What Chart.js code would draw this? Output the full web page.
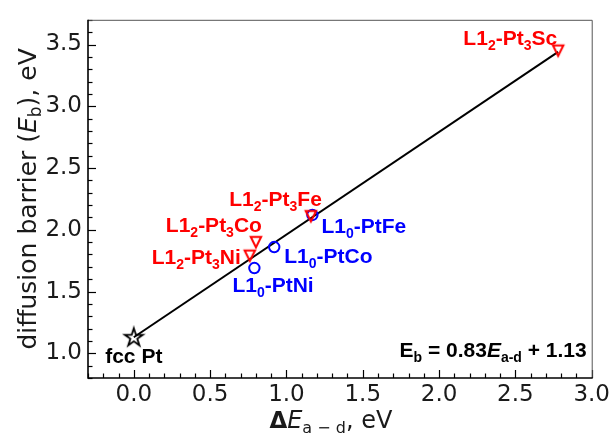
<!DOCTYPE html>
<html>
<head>
<meta charset="utf-8">
<script src="https://cdn.jsdelivr.net/npm/chart.js@4.4.1/dist/chart.umd.min.js"></script>
<style>
  html, body { margin: 0; padding: 0; background: #fff; }
  #wrap { width: 613px; height: 433px; }
</style>
</head>
<body>
<div id="wrap"><canvas id="chart" width="613" height="433"></canvas></div>
<script>
// axis ranges and tick labels
const xRange = [-0.3, 3.0];
const yRange = [0.8, 3.7];
const xTicks = [0.0, 0.5, 1.0, 1.5, 2.0, 2.5, 3.0];
const yTicks = [1.0, 1.5, 2.0, 2.5, 3.0, 3.5];

// pure Pt (star)
const pureNames = ['fcc Pt'];
const pureX = [0.0];
const pureY = [1.13];

// L1_2 Pt3M (red down-triangles), {n} = subscript
const l12Names = ['L1{2}-Pt{3}Ni', 'L1{2}-Pt{3}Co', 'L1{2}-Pt{3}Fe', 'L1{2}-Pt{3}Sc'];
const l12X = [0.76, 0.80, 1.16, 2.78];
const l12Y = [1.79, 1.90, 2.11, 3.45];

// L1_0 PtM (blue circles)
const l10Names = ['L1{0}-PtNi', 'L1{0}-PtCo', 'L1{0}-PtFe'];
const l10X = [0.79, 0.92, 1.17];
const l10Y = [1.69, 1.86, 2.12];

// fitted line, drawn between its two ends
const fitX = [0.0, 2.78];
const fitY = [1.13, 3.44];
const fitSlope = '0.83';
const fitIntercept = '1.13';

// label placement relative to the marker (px), style only
const labelPos = {
  'fcc Pt': { dx: 0, dy: 26, align: 'center' },
  'L1{2}-Pt{3}Ni': { dx: -9, dy: 8, align: 'right' },
  'L1{2}-Pt{3}Co': { dx: 6, dy: -10, align: 'right' },
  'L1{2}-Pt{3}Fe': { dx: 11, dy: -10, align: 'right' },
  'L1{2}-Pt{3}Sc': { dx: -1, dy: -6, align: 'right' },
  'L1{0}-PtNi': { dx: -22, dy: 24, align: 'left' },
  'L1{0}-PtCo': { dx: 10, dy: 16, align: 'left' },
  'L1{0}-PtFe': { dx: 9, dy: 18, align: 'left' }
};

const RED = '#ff0000', BLUE = '#0000ff';
const LBL = 'bold 21px "Liberation Sans", Arial, sans-serif';
const LBL_SUB = 'bold 14px "Liberation Sans", Arial, sans-serif';

function pts(xs, ys) { return xs.map((x, i) => ({ x: x, y: ys[i] })); }

// custom marker images
function starImg() {
    const c = document.createElement('canvas'); c.width = 24; c.height = 24;
    const g = c.getContext('2d'), R = 9.5, r = R * 0.382;
    g.beginPath();
    for (let i = 0; i < 10; i++) {
        const a = -Math.PI / 2 + i * Math.PI / 5, rr = i % 2 ? r : R;
        g.lineTo(12 + rr * Math.cos(a), 12.5 + rr * Math.sin(a));
    }
    g.closePath(); g.lineWidth = 1.8; g.strokeStyle = '#000'; g.lineJoin = 'miter'; g.stroke();
    return c;
}
function triImg() {
    const c = document.createElement('canvas'); c.width = 16; c.height = 16;
    const g = c.getContext('2d'), s = 5.2;
    g.beginPath(); g.moveTo(8 - s, 8 - s); g.lineTo(8 + s, 8 - s); g.lineTo(8, 8 + s); g.closePath();
    g.lineWidth = 2; g.strokeStyle = RED; g.stroke();
    return c;
}

// rich text: segments {t, font, dy}
function parseName(str) {
    const segs = [];
    str.split(/(\{[^}]*\})/).forEach(p => {
        if (!p) return;
        if (p[0] === '{') segs.push({ t: p.slice(1, -1), font: LBL_SUB, dy: 5 });
        else segs.push({ t: p, font: LBL, dy: 0 });
    });
    return segs;
}
function drawRich(ctx, segs, x, y, align) {
    let w = 0;
    segs.forEach(s => { ctx.font = s.font; s.w = ctx.measureText(s.t).width; w += s.w; });
    let cx = align === 'right' ? x - w : align === 'center' ? x - w / 2 : x;
    ctx.textAlign = 'left'; ctx.textBaseline = 'alphabetic';
    segs.forEach(s => { ctx.font = s.font; ctx.fillText(s.t, cx, y + s.dy); cx += s.w; });
}

const decoPlugin = {
    id: 'deco',
    afterDatasetsDraw(chart) {
        const { ctx, chartArea: a, scales: { x, y } } = chart;
        ctx.save();
        // point labels
        const groups = [[pureNames, pureX, pureY, '#000'], [l12Names, l12X, l12Y, RED], [l10Names, l10X, l10Y, BLUE]];
        groups.forEach(([names, xs, ys, col]) => {
            names.forEach((n, i) => {
                const p = labelPos[n];
                ctx.fillStyle = col;
                drawRich(ctx, parseName(n), x.getPixelForValue(xs[i]) + p.dx, y.getPixelForValue(ys[i]) + p.dy, p.align);
            });
        });
        // fit equation
        ctx.fillStyle = '#000';
        drawRich(ctx, [
            { t: 'E', font: LBL, dy: 0 },
            { t: 'b', font: LBL_SUB, dy: 5 },
            { t: ' = ' + fitSlope, font: LBL, dy: 0 },
            { t: 'E', font: 'italic ' + LBL, dy: 0 },
            { t: 'a-d', font: LBL_SUB, dy: 5 },
            { t: ' + ' + fitIntercept, font: LBL, dy: 0 }
        ], a.right - 5, a.bottom - 21, 'right');

        // ticks, pointing inwards
        ctx.strokeStyle = '#000'; ctx.lineWidth = 1.2;
        for (let i = Math.round(xRange[0] * 10); i <= Math.round(xRange[1] * 10); i++) {
            const px = Math.round(x.getPixelForValue(i / 10)) + 0.5, len = i % 5 === 0 ? 8 : 4.5;
            ctx.beginPath(); ctx.moveTo(px, a.bottom); ctx.lineTo(px, a.bottom - len); ctx.stroke();
        }
        for (let i = Math.round(yRange[0] * 10); i <= Math.round(yRange[1] * 10); i++) {
            const py = Math.round(y.getPixelForValue(i / 10)) + 0.5, len = i % 5 === 0 ? 8 : 4.5;
            ctx.beginPath(); ctx.moveTo(a.left, py); ctx.lineTo(a.left + len, py); ctx.stroke();
        }
        // frame
        ctx.strokeStyle = '#555'; ctx.lineWidth = 1;
        ctx.beginPath(); ctx.moveTo(a.left, a.top + 0.5); ctx.lineTo(a.right + 0.5, a.top + 0.5); ctx.lineTo(a.right + 0.5, a.bottom); ctx.stroke();
        ctx.strokeStyle = '#000'; ctx.lineWidth = 1.6;
        ctx.beginPath(); ctx.moveTo(a.left, a.top); ctx.lineTo(a.left, a.bottom); ctx.lineTo(a.right + 1, a.bottom); ctx.stroke();

        // axis titles
        const T = '25px "DejaVu Sans"', TS = '17px "DejaVu Sans"';
        ctx.fillStyle = '#1a1a1a';
        ctx.save();
        ctx.translate(36, (a.top + a.bottom) / 2);
        ctx.rotate(-Math.PI / 2);
        drawRich(ctx, [
            { t: 'diffusion barrier (', font: T, dy: 0 },
            { t: 'E', font: 'italic ' + T, dy: 0 },
            { t: 'b', font: TS, dy: 5 },
            { t: '), eV', font: T, dy: 0 }
        ], 0, 0, 'center');
        ctx.restore();
        drawRich(ctx, [
            { t: '\u0394', font: 'bold 23px "DejaVu Sans"', dy: 0 },
            { t: 'E', font: 'italic 24px "DejaVu Sans"', dy: 0 },
            { t: 'a \u2212 d', font: '16px "DejaVu Sans"', dy: 5 },
            { t: ', eV', font: '24px "DejaVu Sans"', dy: 0 }
        ], (a.left + a.right) / 2 - 9, 428, 'center');
        ctx.restore();
    }
};

const tickFont = { family: 'DejaVu Sans', size: 23 };

new Chart(document.getElementById('chart'), {
    type: 'scatter',
    data: {
        datasets: [
            { label: 'fit', data: pts(fitX, fitY), showLine: true, borderColor: '#000', borderWidth: 2, pointRadius: 0, order: 3 },
            { label: 'L1_0', data: pts(l10X, l10Y), pointStyle: 'circle', pointRadius: 5.2, pointBorderWidth: 2, borderColor: BLUE, pointBorderColor: BLUE, pointBackgroundColor: 'rgba(0,0,0,0)', backgroundColor: 'rgba(0,0,0,0)', order: 2 },
            { label: 'L1_2', data: pts(l12X, l12Y), pointStyle: triImg(), pointRadius: 7, order: 1 },
            { label: 'fcc', data: pts(pureX, pureY), pointStyle: starImg(), pointRadius: 10, order: 0 }
        ]
    },
    options: {
        responsive: false, animation: false, events: [],
        layout: { padding: { top: 12, right: 21, left: 0, bottom: 0 } },
        plugins: { legend: { display: false }, tooltip: { enabled: false } },
        scales: {
            x: {
                type: 'linear', min: xRange[0], max: xRange[1],
                grid: { display: false, drawTicks: false }, border: { display: false },
                afterBuildTicks: s => { s.ticks = xTicks.map(v => ({ value: v })); },
                afterFit: s => { s.height = 55; },
                ticks: { font: tickFont, color: '#1a1a1a', padding: 3, maxRotation: 0, autoSkip: false, callback: v => Number(v).toFixed(1) }
            },
            y: {
                type: 'linear', min: yRange[0], max: yRange[1],
                grid: { display: false, drawTicks: false }, border: { display: false },
                afterBuildTicks: s => { s.ticks = yTicks.map(v => ({ value: v })); },
                afterFit: s => { s.width = 88; },
                ticks: { font: tickFont, color: '#1a1a1a', padding: 6, autoSkip: false, callback: v => Number(v).toFixed(1) }
            }
        }
    },
    plugins: [decoPlugin]
});
</script>
</body>
</html>
